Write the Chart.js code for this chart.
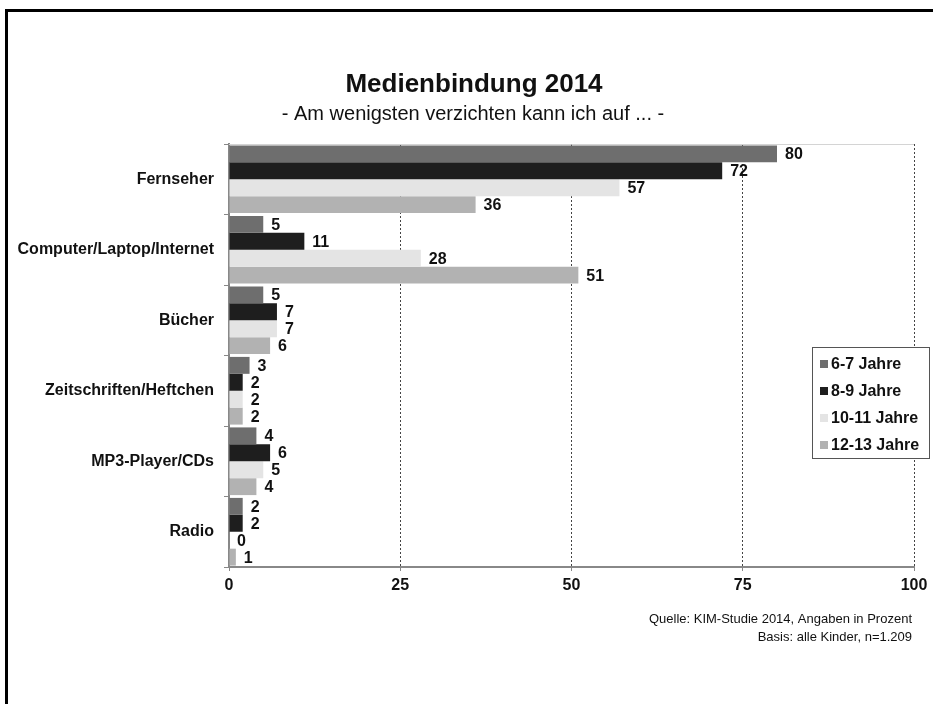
<!DOCTYPE html>
<html>
<head>
<meta charset="utf-8">
<script src="https://cdn.jsdelivr.net/npm/chart.js@4/dist/chart.umd.min.js"></script>
<style>
  html, body { margin: 0; padding: 0; background: #fff; }
  #wrap { position: relative; width: 933px; height: 704px; }
  #frame { position: absolute; left: 5px; top: 9px; right: 0; bottom: 0;
           border-left: 3px solid #000; border-top: 3px solid #000; pointer-events: none; }
  canvas { position: absolute; left: 0; top: 0; }
</style>
</head>
<body>
<div id="wrap">
  <canvas id="myChart" width="933" height="704"></canvas>
  <div id="frame"></div>
</div>
<script>
const FONT = "'Liberation Sans', Arial, sans-serif";

const categories = ['Fernseher', 'Computer/Laptop/Internet', 'Bücher', 'Zeitschriften/Heftchen', 'MP3-Player/CDs', 'Radio'];
const seriesNames = ['6-7 Jahre', '8-9 Jahre', '10-11 Jahre', '12-13 Jahre'];
const age6to7 = [80, 5, 5, 3, 4, 2];
const age8to9 = [72, 11, 7, 2, 6, 2];
const age10to11 = [57, 28, 7, 2, 5, 0];
const age12to13 = [36, 51, 6, 2, 4, 1];
const xTicks = [0, 25, 50, 75, 100];

const title = 'Medienbindung 2014';
const subtitle = '- Am wenigsten verzichten kann ich auf ... -';
const source = ['Quelle: KIM-Studie 2014, Angaben in Prozent', 'Basis: alle Kinder, n=1.209'];

const colors = ['#6e6e6e', '#1e1e1e', '#e4e4e4', '#b2b2b2'];

let data = {
    labels: categories,
    datasets: [age6to7, age8to9, age10to11, age12to13].map((vals, i) => ({
        label: seriesNames[i],
        data: vals,
        backgroundColor: colors[i],
        borderWidth: 0,
        barPercentage: 1,
        categoryPercentage: 0.96
    }))
};

// values next to bar ends
const valueLabels = {
    id: 'valueLabels',
    afterDatasetsDraw(chart) {
        let ctx = chart.ctx;
        ctx.save();
        ctx.font = 'bold 16px ' + FONT;
        ctx.fillStyle = '#111';
        ctx.textBaseline = 'middle';
        chart.data.datasets.forEach((ds, i) => {
            chart.getDatasetMeta(i).data.forEach((bar, j) => {
                ctx.fillText(ds.data[j], bar.x + 8, bar.y + 1);
            });
        });
        ctx.restore();
    }
};

// titles, source note, plot frame top and legend box
const decorations = {
    id: 'decorations',
    beforeDatasetsDraw(chart) {
        let { ctx, chartArea } = chart;
        ctx.save();
        ctx.strokeStyle = '#d4d4d4';
        ctx.lineWidth = 1;
        ctx.beginPath();
        ctx.moveTo(chartArea.left, chartArea.top + 0.5);
        ctx.lineTo(chartArea.right, chartArea.top + 0.5);
        ctx.stroke();
        ctx.restore();
    },
    afterDraw(chart) {
        let ctx = chart.ctx;
        ctx.save();
        ctx.fillStyle = '#111';
        ctx.textAlign = 'center';
        ctx.textBaseline = 'alphabetic';
        ctx.font = 'bold 26px ' + FONT;
        ctx.fillText(title, 474, 92);
        ctx.font = '20px ' + FONT;
        ctx.fillText(subtitle, 473, 120);

        ctx.textAlign = 'right';
        ctx.font = '13px ' + FONT;
        ctx.fillText(source[0], 912, 623);
        ctx.fillText(source[1], 912, 641);

        // legend
        let bx = 812, by = 347, bw = 117, bh = 111;
        ctx.fillStyle = '#fff';
        ctx.fillRect(bx, by, bw, bh);
        ctx.strokeStyle = '#555';
        ctx.lineWidth = 1;
        ctx.strokeRect(bx + 0.5, by + 0.5, bw, bh);
        ctx.textAlign = 'left';
        ctx.textBaseline = 'middle';
        ctx.font = 'bold 16px ' + FONT;
        chart.data.datasets.forEach((ds, i) => {
            let y = by + 17 + i * 27;
            ctx.fillStyle = ds.backgroundColor;
            ctx.fillRect(bx + 8, y - 4, 8, 8);
            ctx.fillStyle = '#111';
            ctx.fillText(ds.label, bx + 19, y + 1);
        });
        ctx.restore();
    }
};

let options = {
    indexAxis: 'y',
    responsive: false,
    animation: false,
    layout: { padding: { top: 144, left: 8, right: 19, bottom: 107 } },
    plugins: {
        legend: { display: false },
        tooltip: { enabled: false }
    },
    scales: {
        x: {
            min: 0,
            max: 100,
            afterBuildTicks: (scale) => { scale.ticks = xTicks.map(v => ({ value: v })); },
            afterFit: (scale) => { scale.height = 30; },
            ticks: {
                font: { family: FONT, size: 16, weight: 'bold' },
                color: '#111',
                padding: 5
            },
            grid: {
                color: (c) => (c.tick && c.tick.value === 0) ? 'rgba(0,0,0,0)' : '#444',
                lineWidth: 1,
                tickColor: '#888',
                tickLength: 4
            },
            border: { color: '#888', width: 2, dash: [2, 2] }
        },
        y: {
            afterFit: (scale) => { scale.width = 221; },
            ticks: {
                font: { family: FONT, size: 16, weight: 'bold' },
                color: '#111',
                padding: 10
            },
            grid: {
                drawOnChartArea: false,
                color: '#888',
                tickLength: 5
            },
            border: { color: '#888', width: 2 }
        }
    }
};

var ctx = document.getElementById('myChart');
new Chart(ctx, {
    type: 'bar',
    data,
    options,
    plugins: [valueLabels, decorations]
});
</script>
</body>
</html>
